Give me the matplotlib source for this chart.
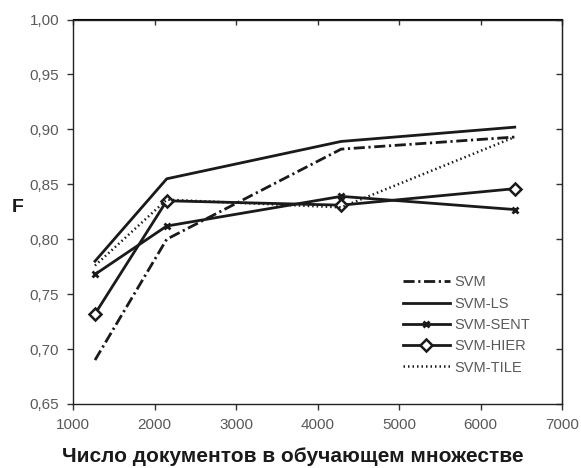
import matplotlib
matplotlib.use("Agg")
import matplotlib.pyplot as plt

x_docs = [1270, 2150, 4290, 6420]
svm = [0.690, 0.800, 0.882, 0.893]
svm_ls = [0.780, 0.855, 0.889, 0.902]
svm_sent = [0.768, 0.812, 0.839, 0.827]
svm_hier = [0.732, 0.835, 0.831, 0.846]
svm_tile = [0.776, 0.836, 0.829, 0.893]
labels = ["SVM", "SVM-LS", "SVM-SENT", "SVM-HIER", "SVM-TILE"]
xticks = [1000, 2000, 3000, 4000, 5000, 6000, 7000]
yticks = [0.65, 0.70, 0.75, 0.80, 0.85, 0.90, 0.95, 1.00]

plt.rcParams['font.family'] = ['Liberation Sans', 'DejaVu Sans']
fig = plt.figure(figsize=(5.81, 4.68), dpi=100)
ax = fig.add_axes([73/581, 1 - 404/468, (562-73)/581, (404-19.5)/468])

c = '#1a1a1a'
ax.plot(x_docs, svm, color=c, lw=2.0, linestyle=(0, (4, 1.3, 0.8, 1.3)), label=labels[0])
ax.plot(x_docs, svm_ls, color=c, lw=2.0, label=labels[1])
ax.plot(x_docs, svm_sent, color=c, lw=2.0, marker='x', ms=5, mew=2, label=labels[2])
ax.plot(x_docs, svm_hier, color=c, lw=2.0, marker='D', ms=6.5, mew=1.8,
        mfc='white', mec=c, label=labels[3])
ax.plot(x_docs, svm_tile, color=c, lw=1.8, linestyle=(0, (0.6, 1.2)), label=labels[4])

ax.set_xlim(1000, 7000)
ax.set_ylim(0.65, 1.00)
ax.set_xticks(xticks)
ax.set_yticks(yticks)
ax.set_xticklabels([str(v) for v in xticks])
ax.set_yticklabels([f"{v:.2f}".replace('.', ',') for v in yticks])
ax.tick_params(axis='both', direction='out', length=4, width=1, color='#333333',
               labelsize=11, labelcolor='#5a5a5a', pad=6)
for s in ax.spines.values():
    s.set_linewidth(1.0)
    s.set_color('#222222')

secx = ax.secondary_xaxis('top')
secx.set_xticks(xticks)
secx.tick_params(direction='in', length=4, width=1, color='#333333', labeltop=False)
secy = ax.secondary_yaxis('right')
secy.set_yticks(yticks)
secy.tick_params(direction='in', length=4, width=1, color='#333333', labelright=False)

fig.text(293/581, 1 - 456/468, "Число документов в обучающем множестве", fontsize=15,
         fontweight='bold', color='#1a1a1a', ha='center', va='center')
fig.text(18/581, 1 - 208/468, "F", fontsize=14, fontweight='bold', color='#1a1a1a',
         ha='center', va='center')

leg = ax.legend(loc='lower right', bbox_to_anchor=(0.955, 0.05), frameon=False,
                fontsize=10.5, handlelength=3.2, handletextpad=0.3, labelspacing=0.5,
                borderpad=0.2)
for t in leg.get_texts():
    t.set_color('#5a5a5a')

fig.savefig("out.png", dpi=100)
